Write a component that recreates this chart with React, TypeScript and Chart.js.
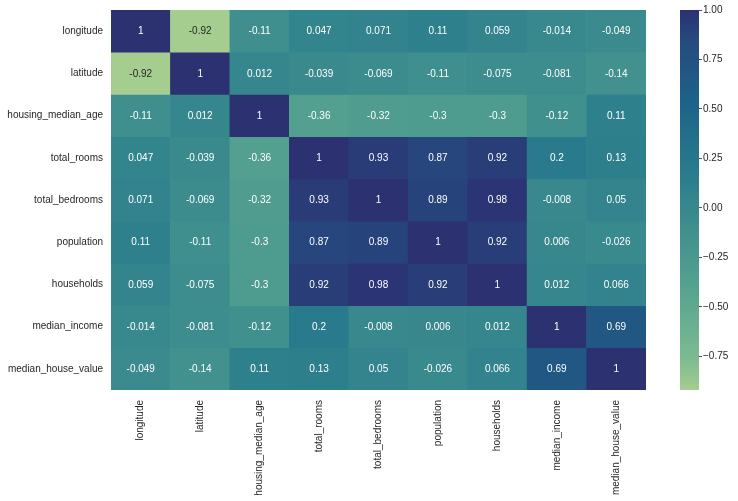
import React, { useEffect, useRef } from 'react';
import { Chart, registerables } from 'chart.js';
Chart.register(...registerables);

const labels = [
  'longitude',
  'latitude',
  'housing_median_age',
  'total_rooms',
  'total_bedrooms',
  'population',
  'households',
  'median_income',
  'median_house_value',
];

const rowLongitude = [1, -0.92, -0.11, 0.047, 0.071, 0.11, 0.059, -0.014, -0.049];
const rowLatitude = [-0.92, 1, 0.012, -0.039, -0.069, -0.11, -0.075, -0.081, -0.14];
const rowHousingAge = [-0.11, 0.012, 1, -0.36, -0.32, -0.3, -0.3, -0.12, 0.11];
const rowTotalRooms = [0.047, -0.039, -0.36, 1, 0.93, 0.87, 0.92, 0.2, 0.13];
const rowTotalBedrooms = [0.071, -0.069, -0.32, 0.93, 1, 0.89, 0.98, -0.008, 0.05];
const rowPopulation = [0.11, -0.11, -0.3, 0.87, 0.89, 1, 0.92, 0.006, -0.026];
const rowHouseholds = [0.059, -0.075, -0.3, 0.92, 0.98, 0.92, 1, 0.012, 0.066];
const rowMedianIncome = [-0.014, -0.081, -0.12, 0.2, -0.008, 0.006, 0.012, 1, 0.69];
const rowMedianHouseValue = [-0.049, -0.14, 0.11, 0.13, 0.05, -0.026, 0.066, 0.69, 1];

const matrix = [
  rowLongitude,
  rowLatitude,
  rowHousingAge,
  rowTotalRooms,
  rowTotalBedrooms,
  rowPopulation,
  rowHouseholds,
  rowMedianIncome,
  rowMedianHouseValue,
];

const colorbarTicks = [-0.75, -0.5, -0.25, 0, 0.25, 0.5, 0.75, 1];

const crestStops = ['#a5cd90', '#7dba91', '#59a590', '#40908e', '#287a8c', '#1c6488', '#254b7f', '#2c3172'];
const crestPos = [0, 1 / 12, 3 / 12, 5 / 12, 7 / 12, 9 / 12, 11 / 12, 1];

const vmin = Math.min(...matrix.flat());
const vmax = Math.max(...matrix.flat());

const FONT = '"Liberation Sans", Arial, sans-serif';
const TEXT = '#262626';

function hexToRgb(h: string) {
  return [parseInt(h.slice(1, 3), 16), parseInt(h.slice(3, 5), 16), parseInt(h.slice(5, 7), 16)];
}

function rgbAt(t: number) {
  t = Math.max(0, Math.min(1, t));
  for (let i = 0; i < crestPos.length - 1; i++) {
    if (t <= crestPos[i + 1]) {
      const f = (t - crestPos[i]) / (crestPos[i + 1] - crestPos[i]);
      const a = hexToRgb(crestStops[i]);
      const b = hexToRgb(crestStops[i + 1]);
      return a.map((v, k) => Math.round(v + (b[k] - v) * f));
    }
  }
  return hexToRgb(crestStops[crestStops.length - 1]);
}

function norm(v: number) {
  return (v - vmin) / (vmax - vmin);
}

function colorFor(v: number) {
  const [r, g, b] = rgbAt(norm(v));
  return `rgb(${r},${g},${b})`;
}

function textColorFor(v: number) {
  const rgb = rgbAt(norm(v)).map((c) => {
    const s = c / 255;
    return s <= 0.03928 ? s / 12.92 : Math.pow((s + 0.055) / 1.055, 2.4);
  });
  const lum = 0.2126 * rgb[0] + 0.7152 * rgb[1] + 0.0722 * rgb[2];
  return lum > 0.408 ? TEXT : '#ffffff';
}

function fmt(v: number) {
  return parseFloat(v.toPrecision(2)).toString();
}

const annotatePlugin = {
  id: 'annotate',
  afterDatasetsDraw(chart: any) {
    const c = chart.ctx;
    c.save();
    c.font = `10px ${FONT}`;
    c.textAlign = 'center';
    c.textBaseline = 'middle';
    chart.data.datasets.forEach((_ds: any, r: number) => {
      const meta = chart.getDatasetMeta(r);
      meta.data.forEach((el: any, ci: number) => {
        const v = matrix[r][ci];
        const p = el.getProps(['x', 'y', 'base'], true);
        c.fillStyle = textColorFor(v);
        c.fillText(fmt(v), p.x, (p.y + p.base) / 2 + 0.5);
      });
    });
    c.restore();
  },
};

export default function App() {
  const mainRef = useRef<HTMLCanvasElement>(null);
  const barRef = useRef<HTMLCanvasElement>(null);

  useEffect(() => {
    Chart.defaults.font.family = FONT;
    Chart.defaults.font.size = 10;
    Chart.defaults.color = TEXT;

    const main = new Chart(mainRef.current as HTMLCanvasElement, {
      type: 'bar',
      data: {
        labels,
        datasets: matrix.map((row, r) => ({
          label: labels[r],
          data: row.map(() => [r, r + 1]) as any,
          backgroundColor: row.map((v) => colorFor(v)),
          borderWidth: 0,
          barPercentage: 1,
          categoryPercentage: 1,
          grouped: false,
        })),
      },
      options: {
        animation: false,
        responsive: false,
        maintainAspectRatio: false,
        layout: { padding: { top: 10, right: 14, left: 0, bottom: 0 } },
        plugins: { legend: { display: false }, tooltip: { enabled: false } },
        scales: {
          x: {
            type: 'category',
            offset: true,
            grid: { display: false, drawTicks: false },
            border: { display: false },
            ticks: { maxRotation: 90, minRotation: 90, autoSkip: false, padding: 10, color: TEXT },
            afterFit: (s: any) => {
              s.height = 111;
              s.paddingLeft = 0;
              s.paddingRight = 0;
            },
          },
          y: {
            type: 'linear',
            min: 0,
            max: 9,
            reverse: true,
            grid: { display: false, drawTicks: false },
            border: { display: false },
            afterBuildTicks: (s: any) => {
              s.ticks = labels.map((_l, i) => ({ value: i + 0.5 }));
            },
            ticks: {
              autoSkip: false,
              padding: 8,
              color: TEXT,
              callback: (_v: any, i: number) => labels[i],
            },
            afterFit: (s: any) => {
              s.width = 111;
              s.paddingTop = 0;
              s.paddingBottom = 0;
            },
          },
        },
      } as any,
      plugins: [annotatePlugin],
    });

    const bar = new Chart(barRef.current as HTMLCanvasElement, {
      type: 'bar',
      data: {
        labels: [''],
        datasets: [
          {
            data: [[vmin, vmax]] as any,
            backgroundColor: (ctx: any) => {
              const chart = ctx.chart;
              const area = chart.chartArea;
              if (!area) return crestStops[4];
              const g = chart.ctx.createLinearGradient(0, area.bottom, 0, area.top);
              crestPos.forEach((p, i) => g.addColorStop(p, crestStops[i]));
              return g;
            },
            borderWidth: 0,
            barPercentage: 1,
            categoryPercentage: 1,
          },
        ],
      },
      options: {
        animation: false,
        responsive: false,
        maintainAspectRatio: false,
        layout: { padding: { top: 10, bottom: 111, left: 20, right: 0 } },
        plugins: { legend: { display: false }, tooltip: { enabled: false } },
        scales: {
          x: { display: false },
          y: {
            position: 'right',
            min: vmin,
            max: vmax,
            border: { display: false },
            grid: { drawOnChartArea: false, drawTicks: true, tickLength: 3, color: TEXT, lineWidth: 0.8 },
            afterBuildTicks: (s: any) => {
              s.ticks = colorbarTicks.map((v) => ({ value: v }));
            },
            ticks: {
              autoSkip: false,
              padding: 1,
              color: TEXT,
              callback: (v: any) => (v < 0 ? '\u2212' + Math.abs(v).toFixed(2) : Number(v).toFixed(2)),
            },
            afterFit: (s: any) => {
              s.width = 39;
              s.paddingTop = 0;
              s.paddingBottom = 0;
            },
          },
        },
      } as any,
    });

    return () => {
      main.destroy();
      bar.destroy();
    };
  }, []);

  return (
    <div style={{ position: 'fixed', left: 0, top: 0, width: 738, height: 501, background: '#ffffff' }}>
      <canvas
        ref={mainRef}
        width={660}
        height={501}
        style={{ position: 'absolute', left: 0, top: 0, width: 660, height: 501 }}
      />
      <canvas
        ref={barRef}
        width={78}
        height={501}
        style={{ position: 'absolute', left: 660, top: 0, width: 78, height: 501 }}
      />
    </div>
  );
}
